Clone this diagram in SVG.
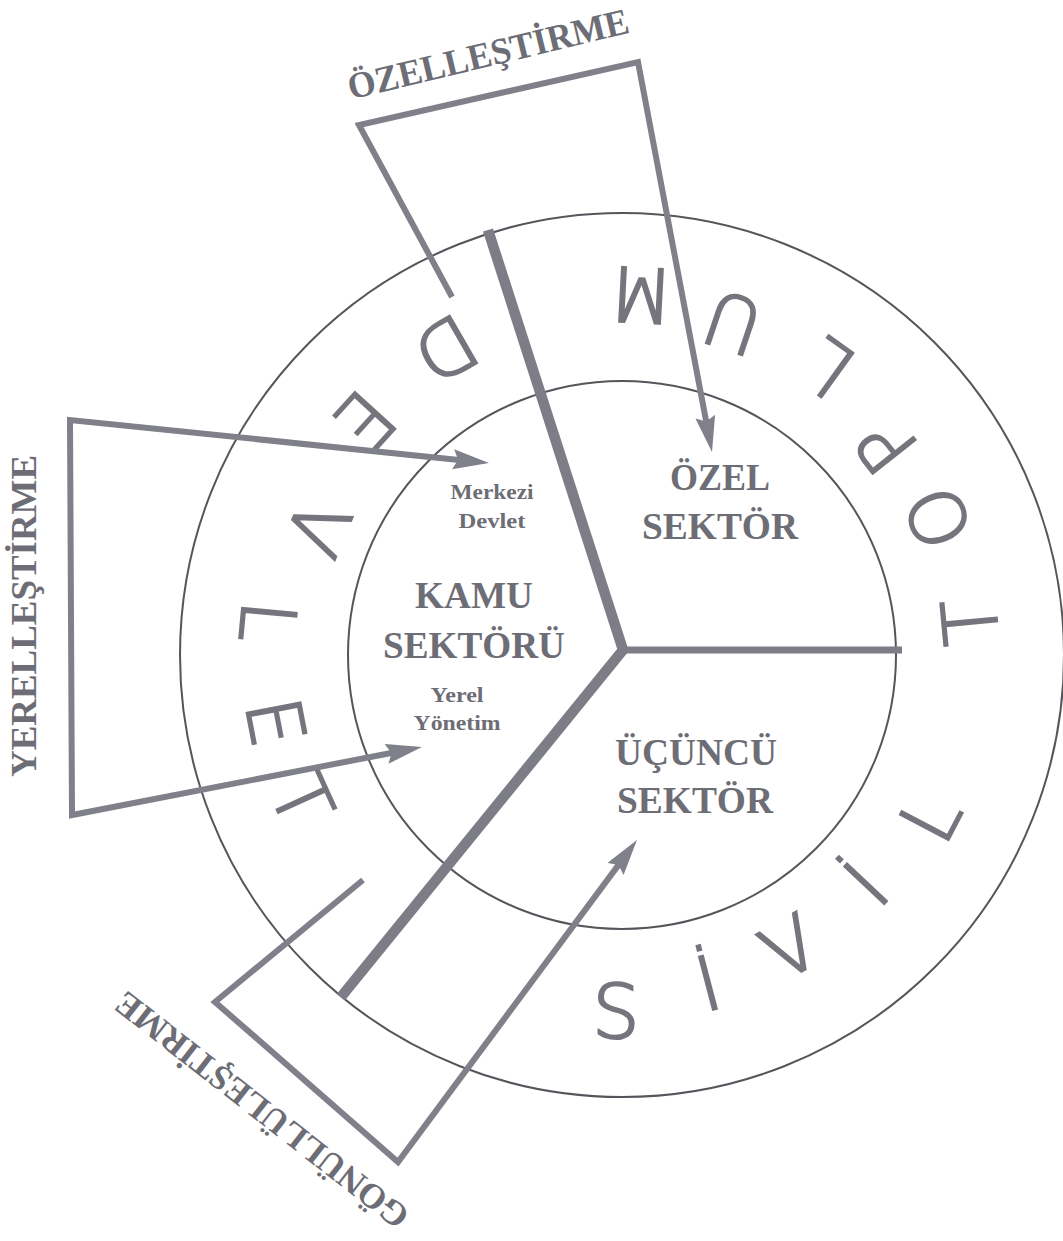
<svg xmlns="http://www.w3.org/2000/svg" width="1063" height="1241" viewBox="0 0 1063 1241">
<style>
.bg{fill:#ffffff}
.ring{fill:none;stroke:#55555c;stroke-width:2}
.div{fill:none;stroke:#7c7d87;stroke-linejoin:miter;stroke-linecap:butt}
.conn{fill:none;stroke:#7f808a;stroke-width:6;stroke-linejoin:miter}
.big{font-family:"Liberation Serif",serif;font-weight:bold;fill:#6d6d75;text-anchor:middle}
.rl{font-family:"DejaVu Sans","Liberation Sans",sans-serif;font-weight:200;font-size:75px;fill:#75757e;stroke:#75757e;stroke-width:2.2;text-anchor:middle}
</style>
<defs>
<marker id="ah" markerUnits="userSpaceOnUse" markerWidth="40" markerHeight="24" refX="6" refY="10" orient="auto-start-reverse">
<path d="M0,0 L36,10 L0,20 L5,10 z" fill="#7f808a"/>
</marker>
</defs>
<rect class="bg" x="0" y="0" width="1063" height="1241"/>

<g id="outer-circle"><circle class="ring" cx="622" cy="655" r="442"/></g>
<g id="inner-circle"><circle class="ring" cx="622" cy="655" r="274" stroke-width="1.8"/></g>

<g id="dividers">
<path class="div" d="M488,230 L623,650 L341,997" stroke-width="10.5"/>
<path class="div" d="M623,650 L902,650" stroke-width="7"/>
</g>

<g id="ring-toplum">
<text class="rl" transform="translate(970,622) rotate(-95.4)" y="27">T</text>
<text class="rl" transform="translate(938,518) rotate(-113.4)" y="27">O</text>
<text class="rl" transform="translate(886,446) rotate(-128.4)" y="27">P</text>
<text class="rl" transform="translate(828,368) rotate(-144.3)" y="27">L</text>
<text class="rl" transform="translate(733,323) rotate(-161.5)" y="27">U</text>
<text class="rl" transform="translate(641,295) rotate(-177)" y="27">M</text>
</g>
<g id="ring-sivil">
<text class="rl" transform="translate(616,1011) rotate(1)" y="27">S</text>
<text class="rl" transform="translate(708,983) rotate(-14.7)" y="27">İ</text>
<text class="rl" transform="translate(790,947) rotate(-29.9)" y="27">V</text>
<text class="rl" transform="translate(866,884) rotate(-46.8)" y="27">İ</text>
<text class="rl" transform="translate(930,817) rotate(-62.3)" y="27">L</text>
</g>
<g id="ring-devlet">
<text class="rl" transform="translate(446,349) rotate(150)" y="27">D</text>
<text class="rl" transform="translate(365,421) rotate(132.3)" y="27">E</text>
<text class="rl" transform="translate(318,528) rotate(112.6)" y="27">V</text>
<text class="rl" transform="translate(268,622) rotate(95.3)" y="27">L</text>
<text class="rl" transform="translate(276,722) rotate(79)" y="27">E</text>
<text class="rl" transform="translate(302,800) rotate(65.6)" y="27">T</text>
</g>

<g id="kamu-sektoru">
<text class="big" x="492" y="499" font-size="22" textLength="83" lengthAdjust="spacingAndGlyphs">Merkezi</text>
<text class="big" x="492" y="528" font-size="22" textLength="67" lengthAdjust="spacingAndGlyphs">Devlet</text>
<text class="big" x="474" y="608" font-size="37" textLength="118" lengthAdjust="spacingAndGlyphs">KAMU</text>
<text class="big" x="474" y="658" font-size="37" textLength="182" lengthAdjust="spacingAndGlyphs">SEKTÖRÜ</text>
<text class="big" x="457" y="702" font-size="22" textLength="53" lengthAdjust="spacingAndGlyphs">Yerel</text>
<text class="big" x="457" y="730" font-size="22" textLength="87" lengthAdjust="spacingAndGlyphs">Yönetim</text>
</g>
<g id="ozel-sektor">
<text class="big" x="720" y="490" font-size="37" textLength="100" lengthAdjust="spacingAndGlyphs">ÖZEL</text>
<text class="big" x="720" y="539" font-size="37" textLength="156" lengthAdjust="spacingAndGlyphs">SEKTÖR</text>
</g>
<g id="ucuncu-sektor">
<text class="big" x="696" y="765" font-size="37" textLength="162" lengthAdjust="spacingAndGlyphs">ÜÇÜNCÜ</text>
<text class="big" x="695" y="813" font-size="37" textLength="156" lengthAdjust="spacingAndGlyphs">SEKTÖR</text>
</g>

<g id="connectors">
<path class="conn" d="M452,297 L359,125 L638,62 L706.4,422.5" marker-end="url(#ah)"/>
<path class="conn" d="M459.1,459.9 L70,420 L72,815 L392.5,752.7" marker-start="url(#ah)" marker-end="url(#ah)"/>
<path class="conn" d="M363,880 L215,1002 L398,1162 L619.1,864.1" marker-end="url(#ah)"/>
</g>

<g id="label-ozellestirme">
<text class="big" font-size="37" textLength="288" lengthAdjust="spacingAndGlyphs" transform="translate(491,66) rotate(-13.5)">ÖZELLEŞTİRME</text>
</g>
<g id="label-yerellestirme">
<text class="big" font-size="36" textLength="322" lengthAdjust="spacingAndGlyphs" transform="translate(36,616) rotate(-90)">YERELLEŞTİRME</text>
</g>
<g id="label-gonullulestirme">
<text class="big" font-size="35" transform="translate(269,1101) rotate(-142)">GÖNÜLLÜLEŞTİRME</text>
</g>
</svg>
